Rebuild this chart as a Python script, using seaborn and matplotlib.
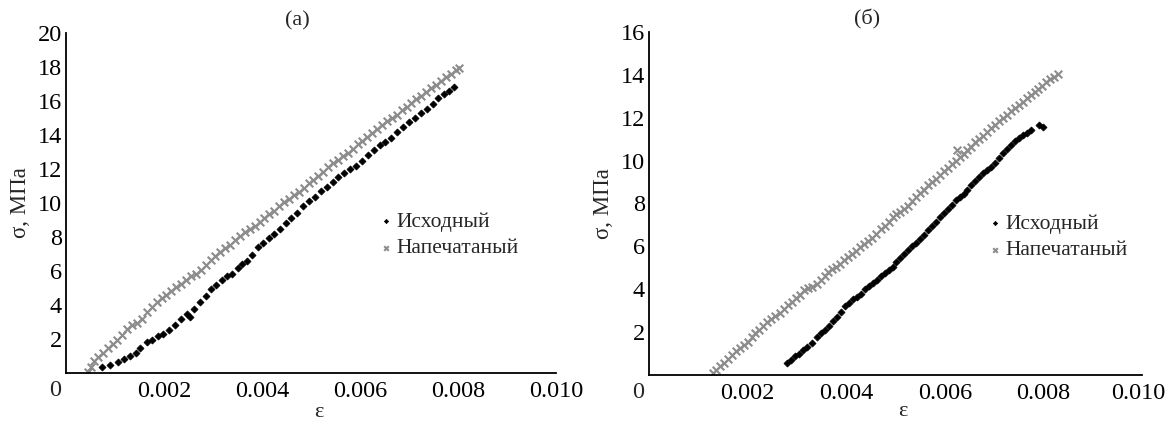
import matplotlib
matplotlib.use("Agg")
import matplotlib.pyplot as plt
import matplotlib.transforms as mtransforms
import seaborn as sns
import pandas as pd

# ---------------- data ----------------
series_names = ["Исходный", "Напечатаный"]
panel_titles = ["(а)", "(б)"]
x_label = "ε"
y_label = "σ, МПа"
x_ticks = [0.002, 0.004, 0.006, 0.008, 0.010]
x_ticklabels = ["0.002", "0.004", "0.006", "0.008", "0.010"]
y_ticks_a = [2, 4, 6, 8, 10, 12, 14, 16, 18, 20]
y_ticks_b = [2, 4, 6, 8, 10, 12, 14, 16]

# panel (a) – original
a_orig_eps = [0.00073, 0.00090, 0.00106, 0.00118, 0.00130, 0.00142, 0.00152, 0.00165, 0.00176, 0.00188,
              0.00198, 0.00210, 0.00222, 0.00234, 0.00247, 0.00253, 0.00262, 0.00274, 0.00286, 0.00296,
              0.00306, 0.00318, 0.00328, 0.00338, 0.00350, 0.00360, 0.00370, 0.00380, 0.00392, 0.00402,
              0.00414, 0.00424, 0.00436, 0.00448, 0.00460, 0.00472, 0.00484, 0.00496, 0.00508, 0.00520,
              0.00532, 0.00544, 0.00556, 0.00568, 0.00580, 0.00592, 0.00604, 0.00616, 0.00628, 0.00640,
              0.00652, 0.00664, 0.00676, 0.00688, 0.00700, 0.00712, 0.00724, 0.00736, 0.00748, 0.00760,
              0.00772, 0.00782, 0.00792]
a_orig_sigma = [0.35, 0.50, 0.62, 0.80, 1.00, 1.20, 1.45, 1.80, 1.95, 2.15,
                2.30, 2.55, 2.85, 3.15, 3.45, 3.30, 3.75, 4.15, 4.55, 4.95,
                5.15, 5.45, 5.70, 5.85, 6.15, 6.40, 6.60, 6.95, 7.40, 7.65,
                7.95, 8.20, 8.45, 8.80, 9.10, 9.40, 9.80, 10.10, 10.35, 10.70,
                10.95, 11.25, 11.50, 11.75, 12.00, 12.20, 12.45, 12.80, 13.10, 13.40,
                13.60, 13.85, 14.15, 14.45, 14.75, 15.00, 15.30, 15.55, 15.85, 16.15,
                16.40, 16.60, 16.85]

# panel (a) – printed
a_print_eps = [0.00045, 0.00050, 0.00058, 0.00066, 0.00075, 0.00085, 0.00095, 0.00105, 0.00115, 0.00125,
               0.00135, 0.00145, 0.00155, 0.00165, 0.00175, 0.00185, 0.00195, 0.00205, 0.00215, 0.00225,
               0.00235, 0.00245, 0.00255, 0.00265, 0.00275, 0.00285, 0.00295, 0.00305, 0.00315, 0.00325,
               0.00335, 0.00345, 0.00355, 0.00365, 0.00375, 0.00385, 0.00395, 0.00405, 0.00415, 0.00425,
               0.00435, 0.00445, 0.00455, 0.00465, 0.00475, 0.00485, 0.00495, 0.00505, 0.00515, 0.00525,
               0.00535, 0.00545, 0.00555, 0.00565, 0.00575, 0.00585, 0.00595, 0.00605, 0.00615, 0.00625,
               0.00635, 0.00645, 0.00655, 0.00665, 0.00675, 0.00685, 0.00695, 0.00705, 0.00715, 0.00725,
               0.00735, 0.00745, 0.00755, 0.00765, 0.00775, 0.00785, 0.00795, 0.00803]
a_print_sigma = [0.05, 0.35, 0.70, 0.95, 1.20, 1.45, 1.70, 1.95, 2.25, 2.60,
                 2.85, 2.95, 3.20, 3.60, 3.90, 4.20, 4.40, 4.60, 4.85, 5.05,
                 5.25, 5.50, 5.70, 5.85, 6.05, 6.35, 6.65, 6.90, 7.10, 7.35,
                 7.55, 7.80, 8.05, 8.30, 8.45, 8.65, 8.90, 9.10, 9.35, 9.55,
                 9.80, 10.05, 10.25, 10.45, 10.65, 10.90, 11.15, 11.35, 11.60, 11.85,
                 12.10, 12.35, 12.55, 12.75, 12.95, 13.20, 13.45, 13.65, 13.90, 14.10,
                 14.35, 14.60, 14.80, 15.00, 15.20, 15.45, 15.65, 15.90, 16.10, 16.30,
                 16.55, 16.75, 16.95, 17.20, 17.40, 17.60, 17.80, 17.95]

# panel (б) – original
b_orig_eps = [0.00280, 0.00288, 0.00296, 0.00304, 0.00312, 0.00320, 0.00331, 0.00340, 0.00348, 0.00356,
              0.00366, 0.00374, 0.00382, 0.00390, 0.00398, 0.00406, 0.00414, 0.00422, 0.00430, 0.00438,
              0.00446, 0.00454, 0.00462, 0.00470, 0.00478, 0.00486, 0.00494, 0.00502, 0.00510, 0.00518,
              0.00526, 0.00534, 0.00542, 0.00550, 0.00558, 0.00566, 0.00574, 0.00582, 0.00590, 0.00598,
              0.00606, 0.00614, 0.00622, 0.00630, 0.00638, 0.00646, 0.00654, 0.00662, 0.00670, 0.00678,
              0.00686, 0.00694, 0.00702, 0.00710, 0.00718, 0.00726, 0.00734, 0.00742, 0.00750, 0.00758,
              0.00766, 0.00774, 0.00792, 0.00800]
b_orig_sigma = [0.55, 0.70, 0.90, 1.00, 1.15, 1.30, 1.50, 1.75, 1.95, 2.10,
                2.30, 2.50, 2.70, 2.95, 3.20, 3.35, 3.55, 3.65, 3.80, 4.00,
                4.15, 4.30, 4.45, 4.60, 4.75, 4.90, 5.05, 5.25, 5.45, 5.65,
                5.85, 6.00, 6.15, 6.35, 6.55, 6.75, 6.95, 7.15, 7.35, 7.55,
                7.75, 7.95, 8.15, 8.30, 8.45, 8.65, 8.85, 9.05, 9.25, 9.40,
                9.55, 9.70, 9.90, 10.10, 10.35, 10.55, 10.75, 10.90, 11.05, 11.20,
                11.30, 11.45, 11.65, 11.55]

# panel (б) – printed
b_print_eps = [0.00129, 0.00136, 0.00144, 0.00152, 0.00160, 0.00168, 0.00176, 0.00184, 0.00192, 0.00200,
               0.00208, 0.00216, 0.00224, 0.00232, 0.00240, 0.00248, 0.00256, 0.00265, 0.00274, 0.00282,
               0.00290, 0.00298, 0.00306, 0.00314, 0.00322, 0.00331, 0.00340, 0.00348, 0.00356, 0.00364,
               0.00372, 0.00380, 0.00388, 0.00396, 0.00404, 0.00412, 0.00420, 0.00428, 0.00436, 0.00444,
               0.00452, 0.00461, 0.00470, 0.00478, 0.00486, 0.00494, 0.00502, 0.00510, 0.00518, 0.00526,
               0.00534, 0.00542, 0.00550, 0.00558, 0.00566, 0.00574, 0.00582, 0.00590, 0.00598, 0.00606,
               0.00614, 0.00622, 0.00624, 0.00630, 0.00638, 0.00646, 0.00654, 0.00662, 0.00670, 0.00678,
               0.00686, 0.00694, 0.00702, 0.00710, 0.00718, 0.00726, 0.00734, 0.00742, 0.00750, 0.00758,
               0.00766, 0.00774, 0.00782, 0.00790, 0.00798, 0.00806, 0.00814, 0.00822, 0.00830]
b_print_sigma = [0.10, 0.25, 0.40, 0.55, 0.75, 0.95, 1.10, 1.25, 1.40, 1.55,
                 1.75, 1.95, 2.10, 2.30, 2.45, 2.60, 2.75, 2.90, 3.10, 3.25,
                 3.40, 3.60, 3.75, 3.95, 4.05, 4.10, 4.25, 4.45, 4.60, 4.80,
                 4.95, 5.05, 5.20, 5.35, 5.50, 5.65, 5.80, 5.95, 6.10, 6.25,
                 6.40, 6.60, 6.80, 6.95, 7.15, 7.35, 7.50, 7.60, 7.75, 7.90,
                 8.10, 8.30, 8.50, 8.65, 8.85, 9.00, 9.15, 9.35, 9.50, 9.65,
                 9.85, 10.00, 10.50, 10.15, 10.30, 10.50, 10.65, 10.85, 11.00, 11.15,
                 11.35, 11.50, 11.65, 11.85, 12.00, 12.15, 12.30, 12.45, 12.60, 12.75,
                 12.90, 13.05, 13.20, 13.35, 13.50, 13.65, 13.80, 13.90, 14.05]

# ---------------- style ----------------
sns.set_style("white")
plt.rcParams["font.family"] = ["Liberation Serif", "DejaVu Serif"]
plt.rcParams["axes.unicode_minus"] = False

ORIG_COLOR = "#000000"
PRINT_COLOR = "#8c8c8c"

fig = plt.figure(figsize=(11.65, 4.21), dpi=100)
ax_a = fig.add_axes([66 / 1165, 48 / 421, 490 / 1165, 340 / 421])
ax_b = fig.add_axes([649 / 1165, 46 / 421, 493 / 1165, 343 / 421])

panels = [
    (ax_a, a_orig_eps, a_orig_sigma, a_print_eps, a_print_sigma, 20, y_ticks_a,
     panel_titles[0], 0.473, (0.642, 0.474), False, -0.088),
    (ax_b, b_orig_eps, b_orig_sigma, b_print_eps, b_print_sigma, 16, y_ticks_b,
     panel_titles[1], 0.442, (0.690, 0.470), True, -0.080),
]

for ax, oe, os_, pe, ps, ymax, yt, title, tx, legpos, shift_last, xl_y in panels:
    df_o = pd.DataFrame({"eps": oe, "sigma": os_})
    df_p = pd.DataFrame({"eps": pe, "sigma": ps})
    sns.scatterplot(data=df_p, x="eps", y="sigma", ax=ax, marker="x", s=30,
                    color=PRINT_COLOR, linewidth=1.5, label=series_names[1], zorder=2)
    sns.scatterplot(data=df_o, x="eps", y="sigma", ax=ax, marker="D", s=13,
                    color=ORIG_COLOR, linewidth=0.5, edgecolor=ORIG_COLOR,
                    label=series_names[0], zorder=3)

    ax.set_xlim(0, 0.010)
    ax.set_ylim(0, ymax)
    ax.set_xticks(x_ticks)
    ax.set_xticklabels(x_ticklabels)
    ax.set_yticks(yt)
    ax.set_yticklabels([str(v) for v in yt])
    ax.tick_params(axis="both", direction="in", length=8, width=1.1, colors="black",
                   labelsize=17.5)
    ax.tick_params(axis="x", pad=6)
    ax.tick_params(axis="y", pad=3)
    for side in ["top", "right"]:
        ax.spines[side].set_visible(False)
    for side in ["left", "bottom"]:
        ax.spines[side].set_color("black")
        ax.spines[side].set_linewidth(1.3)

    if shift_last:
        lab = ax.get_xticklabels()[-1]
        lab.set_transform(lab.get_transform() +
                          mtransforms.ScaledTranslation(-4 / 100, 0, fig.dpi_scale_trans))

    ax.set_xlabel(x_label, fontsize=16)
    ax.set_ylabel(y_label, fontsize=16.5)
    ax.xaxis.set_label_coords(0.515, xl_y)
    ax.yaxis.set_label_coords(-0.072, 0.5)

    ax.text(-0.022, -0.02, "0", transform=ax.transAxes, ha="center", va="top", fontsize=17.5)
    ax.text(tx, 1.037, title, transform=ax.transAxes, ha="center", va="center", fontsize=16)

    handles, labels = ax.get_legend_handles_labels()
    order = [labels.index(series_names[0]), labels.index(series_names[1])]
    ax.legend([handles[i] for i in order], [labels[i] for i in order],
              loc="upper left", bbox_to_anchor=legpos, frameon=False,
              fontsize=15.5, handlelength=0.5, handletextpad=0.25,
              labelspacing=0.3, borderpad=0, borderaxespad=0, markerscale=0.6)

fig.savefig("out.png", dpi=100)
